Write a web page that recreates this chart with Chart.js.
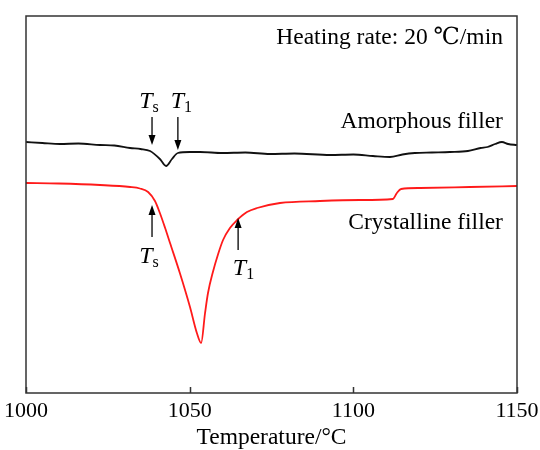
<!DOCTYPE html>
<html>
<head>
<meta charset="utf-8">
<script src="https://cdn.jsdelivr.net/npm/chart.js@4/dist/chart.umd.min.js"></script>
<style>
  html, body { margin: 0; padding: 0; background: #fff; }
  #wrap { width: 540px; height: 450px; }
</style>
</head>
<body>
<div id="wrap"><canvas id="dscChart" width="540" height="450"></canvas></div>
<script>
// DSC curves, temperature in °C, signal in arbitrary units (exo up)
const amorphousTemp = [1000, 1005, 1010.4, 1016, 1022.6, 1027, 1031.8, 1035, 1037.9, 1040.9, 1042.8, 1044.6, 1046.4, 1050, 1053.2, 1060, 1067, 1074.5, 1082, 1092.9, 1100, 1106, 1111.2, 1115, 1118.8, 1124, 1129.5, 1135, 1138.9, 1141, 1143.3, 1145.4, 1147.3, 1150];
const amorphousSignal = [251, 250, 249, 249.5, 248, 247.5, 245, 244, 242, 234, 227, 234, 240, 241, 241, 240, 240.5, 239, 239.5, 238, 238.5, 237, 236, 238.5, 240, 240.5, 241, 242, 245, 246, 249, 251, 249, 248];

const crystallineTemp = [1000, 1010, 1022.6, 1031.8, 1034.8, 1037.3, 1039.4, 1040.9, 1042.5, 1044.0, 1047.0, 1050.1, 1052.2, 1053.5, 1054.7, 1055.6, 1057.1, 1058.7, 1060.2, 1062.3, 1064.5, 1067.5, 1070.6, 1077.6, 1089.8, 1102.0, 1112.1, 1113.3, 1114.6, 1120.4, 1135.6, 1150];
const crystallineSignal = [210, 209.5, 208, 206, 204.5, 201, 192, 180, 165, 150, 120, 86, 60, 50, 80, 100, 121, 139, 153, 165, 173, 181, 185, 190, 192, 193, 194, 200, 204, 205, 206, 207];

const xTicks = [1000, 1050, 1100, 1150];

// arrows: [temperature, tail signal, tip signal], labels: [text, subscript, temperature, signal]
const arrows = [
  [1038.5, 276, 248],
  [1046.4, 276, 243],
  [1038.5, 156, 188],
  [1064.8, 143, 175]
];
const arrowLabels = [
  ['T', 's', 1034.6, 285],
  ['T', '1', 1044.2, 285],
  ['T', 's', 1034.6, 130],
  ['T', '1', 1063.2, 118]
];
const notes = [
  ['Heating rate: 20 \u2103/min', 1145.7, 349],
  ['Amorphous filler', 1145.7, 265],
  ['Crystalline filler', 1145.7, 164]
];

const serif = '"Liberation Serif", "DejaVu Serif", serif';

const decorPlugin = {
  id: 'decor',
  afterDatasetsDraw(chart) {
    const { ctx, chartArea: a, scales: { x, y } } = chart;
    ctx.save();
    // frame
    ctx.strokeStyle = '#333';
    ctx.lineWidth = 1.5;
    ctx.strokeRect(a.left, a.top, a.right - a.left, a.bottom - a.top);
    // inward ticks
    ctx.beginPath();
    xTicks.forEach(t => {
      const px = Math.round(x.getPixelForValue(t)) + 0.5;
      ctx.moveTo(px, a.bottom);
      ctx.lineTo(px, a.bottom - 6);
    });
    ctx.stroke();
    // arrows
    ctx.strokeStyle = '#000';
    ctx.fillStyle = '#000';
    ctx.lineWidth = 1.3;
    arrows.forEach(([t, s0, s1]) => {
      const px = x.getPixelForValue(t);
      const y0 = y.getPixelForValue(s0);
      const y1 = y.getPixelForValue(s1);
      const dir = y1 > y0 ? 1 : -1;
      ctx.beginPath();
      ctx.moveTo(px, y0);
      ctx.lineTo(px, y1 - dir * 8);
      ctx.stroke();
      ctx.beginPath();
      ctx.moveTo(px, y1);
      ctx.lineTo(px - 3.5, y1 - dir * 10);
      ctx.lineTo(px + 3.5, y1 - dir * 10);
      ctx.closePath();
      ctx.fill();
    });
    // T labels
    ctx.textBaseline = 'alphabetic';
    ctx.textAlign = 'left';
    arrowLabels.forEach(([main, sub, t, s]) => {
      const px = x.getPixelForValue(t);
      const py = y.getPixelForValue(s);
      ctx.font = 'italic 24px ' + serif;
      ctx.fillText(main, px, py);
      const w = ctx.measureText(main).width;
      ctx.font = '16px ' + serif;
      ctx.fillText(sub, px + w, py + 4);
    });
    // notes
    ctx.textAlign = 'right';
    ctx.font = '23.5px ' + serif;
    notes.forEach(([txt, t, s]) => {
      ctx.fillText(txt, x.getPixelForValue(t), y.getPixelForValue(s));
    });
    ctx.restore();
  }
};

const toPoints = (xs, ys) => xs.map((v, i) => ({ x: v, y: ys[i] }));

new Chart(document.getElementById('dscChart').getContext('2d'), {
  type: 'line',
  data: {
    datasets: [{
      label: 'Amorphous filler',
      data: toPoints(amorphousTemp, amorphousSignal),
      borderColor: '#111',
      borderWidth: 1.8,
      pointRadius: 0,
      cubicInterpolationMode: 'monotone'
    }, {
      label: 'Crystalline filler',
      data: toPoints(crystallineTemp, crystallineSignal),
      borderColor: '#ff1a1a',
      borderWidth: 1.8,
      pointRadius: 0,
      cubicInterpolationMode: 'monotone'
    }]
  },
  options: {
    responsive: false,
    animation: false,
    layout: { padding: { left: 26, right: 23, top: 16, bottom: 0 } },
    plugins: { legend: { display: false }, tooltip: { enabled: false } },
    scales: {
      x: {
        type: 'linear',
        min: 1000,
        max: 1150,
        grid: { display: false, drawTicks: false },
        border: { display: false },
        afterBuildTicks: s => { s.ticks = xTicks.map(v => ({ value: v })); },
        afterFit: s => { s.height = 57; s.paddingLeft = 0; s.paddingRight = 0; },
        ticks: { color: '#000', padding: 5, font: { family: serif, size: 22 }, maxRotation: 0, callback: v => String(v) },
        title: { display: true, text: 'Temperature/\u00b0C', color: '#000', padding: { top: 0, bottom: 0 }, font: { family: serif, size: 23.5, lineHeight: 1 } }
      },
      y: {
        display: false,
        min: 0,
        max: 377
      }
    }
  },
  plugins: [decorPlugin]
});
</script>
</body>
</html>
